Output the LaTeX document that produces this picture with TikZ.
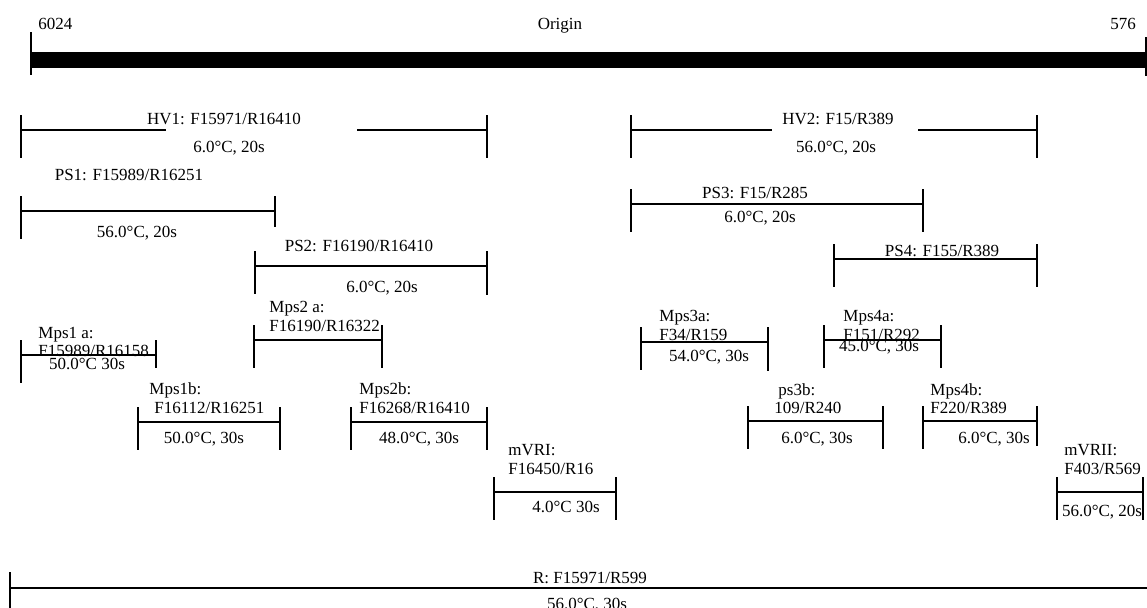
\documentclass[tikz,border=0pt]{standalone}
\usepackage{fontspec}
\setmainfont{Liberation Serif}
\usetikzlibrary{calc}

% ends of one amplicon: #1 drop of right tick, #2 name, #3 left x, #4 right x, #5 y
\newcommand{\ampends}[5][28]{%
  \coordinate (#2L) at (#3,#5);
  \coordinate (#2R) at (#4,#5);
  \draw[tickline] ($(#2L)+(0,-15)$) -- ($(#2L)+(0,28)$);
  \draw[tickline] ($(#2R)+(0,-15)$) -- ($(#2R)+(0,#1)$);
}

\begin{document}
\begin{tikzpicture}[x=0.5pt,y=-0.5pt,font=\fontsize{8.5}{10}\selectfont,
    segline/.style={line width=1pt},
    tickline/.style={line width=1pt},
    lab/.style={inner sep=0pt,text height=0.66em,text depth=0pt},
    labw/.style={lab,anchor=west}]

  \useasboundingbox (0,0) rectangle (1147,607);

  % genome axis
  \coordinate (axL) at (31,60);
  \coordinate (axR) at (1147,60);
  \draw[line width=8pt] (axL) -- (axR);
  \draw[tickline] ($(axL)+(0,-28)$) -- ($(axL)+(0,15)$);
  \draw[tickline] ($(axR)+(-1,-23)$) -- ($(axR)+(-1,16)$);
  \node[labw] (p6024) at (38,23) {6024};
  \node[lab] (origin) at (560,23) {Origin};
  \node[lab] (p576) at (1123,23) {576};

  % hypervariable regions
  \ampends{hv1}{21}{487}{130}
  \coordinate (hv1a) at (166,130);
  \coordinate (hv1b) at (357,130);
  \draw[segline] (hv1L) -- (hv1a) (hv1b) -- (hv1R);
  \node[lab] (hv1lab) at (224,118) {HV1: F15971/R16410};
  \node[lab] (hv1t) at (229,146) {6.0°C, 20s};

  \ampends{hv2}{631}{1037}{130}
  \coordinate (hv2a) at (772,130);
  \coordinate (hv2b) at (918,130);
  \draw[segline] (hv2L) -- (hv2a) (hv2b) -- (hv2R);
  \node[lab] (hv2lab) at (838,118) {HV2: F15/R389};
  \node[lab] (hv2t) at (836,146) {56.0°C, 20s};

  % primer sets
  \ampends[16]{ps1}{21}{275}{211}
  \draw[segline] (ps1L) -- (ps1R);
  \node[lab] (ps1lab) at (129,174) {PS1: F15989/R16251};
  \node[lab] (ps1t) at (137,231) {56.0°C, 20s};

  \ampends[29]{ps2}{255}{487}{266}
  \draw[segline] (ps2L) -- (ps2R);
  \node[lab] (ps2lab) at (359,245) {PS2: F16190/R16410};
  \node[lab] (ps2t) at (382,286) {6.0°C, 20s};

  \ampends{ps3}{631}{923}{204}
  \draw[segline] (ps3L) -- (ps3R);
  \node[lab] (ps3lab) at (755,192) {PS3: F15/R285};
  \node[lab] (ps3t) at (760,216) {6.0°C, 20s};

  \ampends{ps4}{834}{1037}{259}
  \draw[segline] (ps4L) -- (ps4R);
  \node[lab] (ps4lab) at (942,250) {PS4: F155/R389};

  % mini primer sets
  \ampends[13]{mps1a}{21}{156}{355}
  \draw[segline] (mps1aL) -- (mps1aR);
  \node[labw] (mps1alab) at (38,332) {Mps1 a:};
  \node[labw] (mps1apr) at (38,350) {F15989/R16158};
  \node[lab] (mps1at) at (87,363) {50.0°C 30s};

  \ampends{mps2a}{254}{382}{340}
  \draw[segline] (mps2aL) -- (mps2aR);
  \node[labw] (mps2alab) at (269,306) {Mps2 a:};
  \node[labw] (mps2apr) at (269,325) {F16190/R16322};

  \ampends{mps1b}{138}{280}{422}
  \draw[segline] (mps1bL) -- (mps1bR);
  \node[labw] (mps1blab) at (149,388) {Mps1b:};
  \node[labw] (mps1bpr) at (154,407) {F16112/R16251};
  \node[lab] (mps1bt) at (204,437) {50.0°C, 30s};

  \ampends{mps2b}{351}{487}{422}
  \draw[segline] (mps2bL) -- (mps2bR);
  \node[labw] (mps2blab) at (359,388) {Mps2b:};
  \node[labw] (mps2bpr) at (359,407) {F16268/R16410};
  \node[lab] (mps2bt) at (419,437) {48.0°C, 30s};

  \ampends[29]{mps3a}{641}{768}{342}
  \draw[segline] (mps3aL) -- (mps3aR);
  \node[labw] (mps3alab) at (659,315) {Mps3a:};
  \node[labw] (mps3apr) at (659,334) {F34/R159};
  \node[lab] (mps3at) at (709,355) {54.0°C, 30s};

  \ampends{mps4a}{824}{941}{340}
  \draw[segline] (mps4aL) -- (mps4aR);
  \node[labw] (mps4alab) at (843,315) {Mps4a:};
  \node[labw] (mps4apr) at (843,334) {F151/R292};
  \node[lab] (mps4at) at (879,345) {45.0°C, 30s};

  \ampends{ps3b}{748}{883}{421}
  \draw[segline] (ps3bL) -- (ps3bR);
  \node[labw] (ps3blab) at (778,389) {ps3b:};
  \node[labw] (ps3bpr) at (774,407) {109/R240};
  \node[lab] (ps3bt) at (817,437) {6.0°C, 30s};

  \ampends[25]{mps4b}{923}{1037}{421}
  \draw[segline] (mps4bL) -- (mps4bR);
  \node[labw] (mps4blab) at (930,389) {Mps4b:};
  \node[labw] (mps4bpr) at (930,407) {F220/R389};
  \node[lab] (mps4bt) at (994,437) {6.0°C, 30s};

  % mitochondrial variable regions
  \ampends{mvr1}{494}{616}{492}
  \draw[segline] (mvr1L) -- (mvr1R);
  \node[labw] (mvr1lab) at (508,449) {mVRI:};
  \node[labw] (mvr1pr) at (508,468) {F16450/R16};
  \node[lab] (mvr1t) at (566,506) {4.0°C 30s};

  \ampends{mvr2}{1057}{1143}{492}
  \draw[segline] (mvr2L) -- (mvr2R);
  \node[labw] (mvr2lab) at (1064,449) {mVRII:};
  \node[labw] (mvr2pr) at (1064,468) {F403/R569};
  \node[lab] (mvr2t) at (1102,510) {56.0°C, 20s};

  % whole control region
  \coordinate (rL) at (10,588);
  \coordinate (rR) at (1147,588);
  \draw[segline] (rL) -- (rR);
  \draw[tickline] ($(rL)+(0,-16)$) -- ($(rL)+(0,30)$);
  \node[lab] (rlab) at (590,577) {R: F15971/R599};
  \node[lab] (rt) at (587,603) {56.0°C, 30s};
\end{tikzpicture}
\end{document}
